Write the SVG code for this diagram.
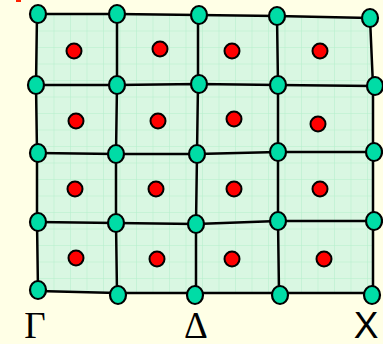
<svg xmlns="http://www.w3.org/2000/svg" width="383" height="344" viewBox="0 0 383 344">
<style>
.ln{fill:none;stroke:#000;stroke-width:2.5;stroke-linejoin:round}
.nd{fill:#00DCA6;stroke:#000;stroke-width:2.2}
.ct{fill:#FF0000;stroke:#000;stroke-width:2}
.lbl{font-size:37px;fill:#000}
</style>
<defs>
<pattern id="fine" x="37" y="14" width="16.5" height="16.5" patternUnits="userSpaceOnUse">
<rect width="16.5" height="16.5" fill="#D9F7E2"/>
<path d="M0 0H16.5M0 0V16.5" stroke="#B3EFCB" stroke-width="1" fill="none"/>
</pattern>
</defs>
<rect width="383" height="344" fill="#FFFFE6"/>
<rect x="16" y="0" width="5" height="2" fill="#FF2000"/>
<polygon points="37,14 117,14 198,15 277,16 370,18 373,86 373,152 373,221 373,293 279,293 196,293 117,293 38,291 37,222 37,153 36,85" fill="url(#fine)"/>
<g id="connectors">
<polyline class="ln" points="37,14 117,14 198,15 277,16 370,18"/>
<polyline class="ln" points="36,85 117,85 198,84 278,85 373,86"/>
<polyline class="ln" points="37,153 116,154 197,154 278,152 373,152"/>
<polyline class="ln" points="37,222 116,223 196,224 278,221 373,221"/>
<polyline class="ln" points="38,291 117,293 196,293 279,293 373,293"/>
<polyline class="ln" points="37,14 36,85 37,153 37,222 38,291"/>
<polyline class="ln" points="117,14 117,85 116,154 116,223 117,293"/>
<polyline class="ln" points="198,15 198,84 197,154 196,224 196,293"/>
<polyline class="ln" points="277,16 278,85 278,152 278,221 279,293"/>
<polyline class="ln" points="370,18 373,86 373,152 373,221 373,293"/>
</g>
<g id="centers">
<circle id="c11" class="ct" cx="74" cy="51" r="7.5"/>
<circle id="c12" class="ct" cx="160" cy="49" r="7.5"/>
<circle id="c13" class="ct" cx="232" cy="51" r="7.5"/>
<circle id="c14" class="ct" cx="320" cy="51" r="7.5"/>
<circle id="c21" class="ct" cx="76" cy="121" r="7.5"/>
<circle id="c22" class="ct" cx="158" cy="121" r="7.5"/>
<circle id="c23" class="ct" cx="234" cy="119" r="7.5"/>
<circle id="c24" class="ct" cx="318" cy="124" r="7.5"/>
<circle id="c31" class="ct" cx="75" cy="189" r="7.5"/>
<circle id="c32" class="ct" cx="156" cy="189" r="7.5"/>
<circle id="c33" class="ct" cx="234" cy="189" r="7.5"/>
<circle id="c34" class="ct" cx="320" cy="189" r="7.5"/>
<circle id="c41" class="ct" cx="76" cy="258" r="7.5"/>
<circle id="c42" class="ct" cx="157" cy="259" r="7.5"/>
<circle id="c43" class="ct" cx="232" cy="259" r="7.5"/>
<circle id="c44" class="ct" cx="324" cy="259" r="7.5"/>
</g>
<g id="nodes">
<g id="n00"><ellipse class="nd" cx="38" cy="14" rx="8" ry="9"/></g>
<g id="n01"><ellipse class="nd" cx="117" cy="14" rx="8" ry="9"/></g>
<g id="n02"><ellipse class="nd" cx="199" cy="15" rx="8" ry="9"/></g>
<g id="n03"><ellipse class="nd" cx="277" cy="16" rx="8" ry="9"/></g>
<g id="n04"><ellipse class="nd" cx="370" cy="18" rx="8" ry="9"/></g>
<g id="n10"><ellipse class="nd" cx="36" cy="85" rx="8" ry="9"/></g>
<g id="n11"><ellipse class="nd" cx="117" cy="85" rx="8" ry="9"/></g>
<g id="n12"><ellipse class="nd" cx="199" cy="84" rx="8" ry="9"/></g>
<g id="n13"><ellipse class="nd" cx="278" cy="85" rx="8" ry="9"/></g>
<g id="n14"><ellipse class="nd" cx="375" cy="86" rx="8" ry="9"/></g>
<g id="n20"><ellipse class="nd" cx="38" cy="153" rx="8" ry="9"/></g>
<g id="n21"><ellipse class="nd" cx="116" cy="154" rx="8" ry="9"/></g>
<g id="n22"><ellipse class="nd" cx="197" cy="154" rx="8" ry="9"/></g>
<g id="n23"><ellipse class="nd" cx="278" cy="152" rx="8" ry="9"/></g>
<g id="n24"><ellipse class="nd" cx="374" cy="152" rx="8" ry="9"/></g>
<g id="n30"><ellipse class="nd" cx="38" cy="222" rx="8" ry="9"/></g>
<g id="n31"><ellipse class="nd" cx="116" cy="223" rx="8" ry="9"/></g>
<g id="n32"><ellipse class="nd" cx="196" cy="224" rx="8" ry="9"/></g>
<g id="n33"><ellipse class="nd" cx="278" cy="221" rx="8" ry="9"/></g>
<g id="n34"><ellipse class="nd" cx="374" cy="221" rx="8" ry="9"/></g>
<g id="n40"><ellipse class="nd" cx="38" cy="290" rx="8" ry="9"/></g>
<g id="n41"><ellipse class="nd" cx="118" cy="295" rx="8" ry="9"/></g>
<g id="n42"><ellipse class="nd" cx="195" cy="295" rx="8" ry="9"/></g>
<g id="n43"><ellipse class="nd" cx="280" cy="295" rx="8" ry="9"/></g>
<g id="n44"><ellipse class="nd" cx="372" cy="295" rx="8" ry="9"/></g>
</g>
<g id="labels">
<text class="lbl" x="35" y="338" text-anchor="middle" font-family="'Liberation Serif', serif">Γ</text>
<text class="lbl" x="196" y="338" text-anchor="middle" font-family="'Liberation Serif', serif">Δ</text>
<text class="lbl" x="366" y="338" text-anchor="middle" font-family="'Liberation Sans', sans-serif">X</text>
</g>
</svg>
